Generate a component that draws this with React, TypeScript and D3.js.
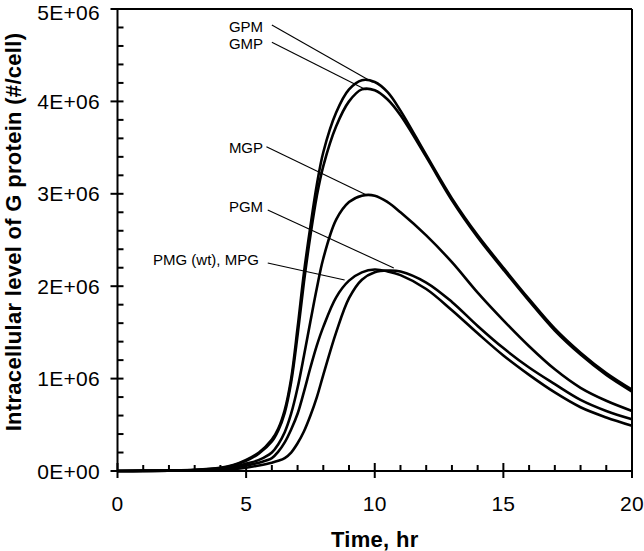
import React from "react";
import * as d3 from "d3";

// Time points (hr)
const times = [0, 1, 2, 3, 4, 4.5, 5, 5.5, 6, 6.25, 6.5, 6.75, 7, 7.25, 7.5, 7.75, 8, 8.5, 9, 9.5, 10, 10.5, 11, 12, 13, 14, 15, 16, 17, 18, 19, 20];

// Intracellular G protein, in units of 1E+06 #/cell
const gpm = [0, 0.002, 0.005, 0.012, 0.035, 0.065, 0.12, 0.2, 0.34, 0.46, 0.66, 1.0, 1.55, 2.15, 2.65, 3.1, 3.45, 3.88, 4.13, 4.23, 4.21, 4.1, 3.9, 3.42, 2.95, 2.55, 2.2, 1.86, 1.54, 1.28, 1.06, 0.88];
const gmp = [0, 0.002, 0.005, 0.011, 0.032, 0.06, 0.11, 0.19, 0.32, 0.44, 0.63, 0.96, 1.47, 2.05, 2.55, 2.98, 3.3, 3.73, 4.0, 4.13, 4.12, 4.02, 3.85, 3.4, 2.93, 2.53, 2.18, 1.84, 1.52, 1.26, 1.04, 0.86];
const mgp = [0, 0.001, 0.004, 0.009, 0.025, 0.045, 0.08, 0.12, 0.2, 0.29, 0.42, 0.62, 0.9, 1.25, 1.62, 1.98, 2.3, 2.72, 2.91, 2.98, 2.98, 2.91, 2.8, 2.55, 2.26, 1.93, 1.63, 1.35, 1.1, 0.9, 0.76, 0.65];
const pgm = [0, 0.001, 0.002, 0.005, 0.012, 0.02, 0.035, 0.06, 0.09, 0.11, 0.14, 0.2, 0.3, 0.43, 0.6, 0.8, 1.04, 1.5, 1.87, 2.07, 2.15, 2.17, 2.16, 2.04, 1.83, 1.57, 1.33, 1.12, 0.94, 0.77, 0.65, 0.56];
const pmgMpg = [0, 0.001, 0.003, 0.007, 0.02, 0.035, 0.06, 0.09, 0.14, 0.21, 0.31, 0.45, 0.62, 0.86, 1.12, 1.36, 1.56, 1.88, 2.06, 2.15, 2.18, 2.16, 2.12, 1.97, 1.74, 1.49, 1.25, 1.04, 0.85, 0.69, 0.58, 0.49];

const seriesValues = [gpm, gmp, mgp, pgm, pmgMpg];

// Axis ticks
const xMajorTicks = [0, 5, 10, 15, 20];
const yMajorTicks = [0, 1, 2, 3, 4, 5];
const yTickLabels = ["0E+00", "1E+06", "2E+06", "3E+06", "4E+06", "5E+06"];

// Curve labels: text anchor (t, value), pointer start and end (t, value)
const labelTexts = ["GPM", "GMP", "MGP", "PGM", "PMG (wt), MPG"];
const labelPos = [[4.33, 4.754], [4.33, 4.564], [4.33, 3.442], [4.33, 2.803], [1.38, 2.229]];
const pointerFrom = [[6.0, 4.827], [6.0, 4.64], [5.79, 3.51], [5.84, 2.825], [5.84, 2.251]];
const pointerTo = [[9.92, 4.208], [9.68, 4.123], [9.68, 2.987], [10.74, 2.197], [8.83, 2.067]];

const W = 644;
const H = 551;
const left = 117.5;
const right = 632;
const top = 9;
const bottom = 471;

export default function App() {
  const x = d3.scaleLinear().domain([0, 20]).range([left, right]);
  const y = d3.scaleLinear().domain([0, 5]).range([bottom, top]);
  const line = d3
    .line<number>()
    .x((_, i) => x(times[i]))
    .y((d) => Math.min(bottom, y(d)))
    .curve(d3.curveCatmullRom.alpha(0.5));

  const xMinor = d3.range(0, 21, 1).filter((v) => v % 5 !== 0);
  const yMinor = d3.range(0, 25, 1).map((v) => v * 0.2).filter((v) => Math.abs(v - Math.round(v)) > 1e-6);

  const font = "'Liberation Sans', Arial, Helvetica, sans-serif";

  return (
    <svg
      width={W}
      height={H}
      style={{ position: "absolute", left: 0, top: 0, background: "#fff" }}
      fontFamily={font}
    >
      <rect x={0} y={0} width={W} height={H} fill="#fff" />
      {/* curves */}
      <g fill="none" stroke="#000" strokeWidth={2.6} strokeLinejoin="round">
        {seriesValues.map((vals, i) => (
          <path key={i} d={line(vals) || ""} />
        ))}
      </g>
      {/* pointer lines */}
      <g stroke="#000" strokeWidth={1.1}>
        {pointerFrom.map((p, i) => (
          <line
            key={i}
            x1={x(p[0])}
            y1={y(p[1])}
            x2={x(pointerTo[i][0])}
            y2={y(pointerTo[i][1])}
          />
        ))}
      </g>
      <g fontSize={15} fill="#000">
        {labelTexts.map((t, i) => (
          <text key={i} x={x(labelPos[i][0])} y={y(labelPos[i][1])}>
            {t}
          </text>
        ))}
      </g>
      {/* frame */}
      <g stroke="#000" strokeWidth={2} fill="none">
        <line x1={left} y1={top} x2={right} y2={top} />
        <line x1={right} y1={top} x2={right} y2={bottom} />
        <line x1={left} y1={top} x2={left} y2={bottom} />
        <line x1={left} y1={bottom} x2={right} y2={bottom} />
        {xMajorTicks.map((v) => (
          <line key={"xM" + v} x1={x(v)} x2={x(v)} y1={bottom - 8} y2={bottom + 7} />
        ))}
        {xMinor.map((v) => (
          <line key={"xm" + v} x1={x(v)} x2={x(v)} y1={bottom - 6} y2={bottom} />
        ))}
        {yMajorTicks.map((v) => (
          <line key={"yM" + v} x1={left - 7} x2={left + 6} y1={y(v)} y2={y(v)} />
        ))}
        {yMinor.map((v) => (
          <line key={"ym" + v} x1={left} x2={left + 6} y1={y(v)} y2={y(v)} />
        ))}
      </g>
      {/* tick labels */}
      <g fontSize={21} fill="#000" letterSpacing={0.3}>
        {xMajorTicks.map((v) => (
          <text key={"xl" + v} x={x(v)} y={511} textAnchor="middle">
            {v}
          </text>
        ))}
        {yMajorTicks.map((v, i) => (
          <text key={"yl" + v} x={100} y={y(v)} dy={v === 5 ? "0.5em" : "0.36em"} textAnchor="end">
            {yTickLabels[i]}
          </text>
        ))}
      </g>
      {/* axis titles */}
      <text x={(left + right) / 2} y={547} textAnchor="middle" fontSize={22} fontWeight="bold" letterSpacing={0.3}>
        Time, hr
      </text>
      <text
        transform={`translate(21, ${(top + bottom) / 2 - 8}) rotate(-90)`}
        textAnchor="middle"
        fontSize={22}
        fontWeight="bold"
        letterSpacing={0.3}
      >
        Intracellular level of G protein (#/cell)
      </text>
    </svg>
  );
}
